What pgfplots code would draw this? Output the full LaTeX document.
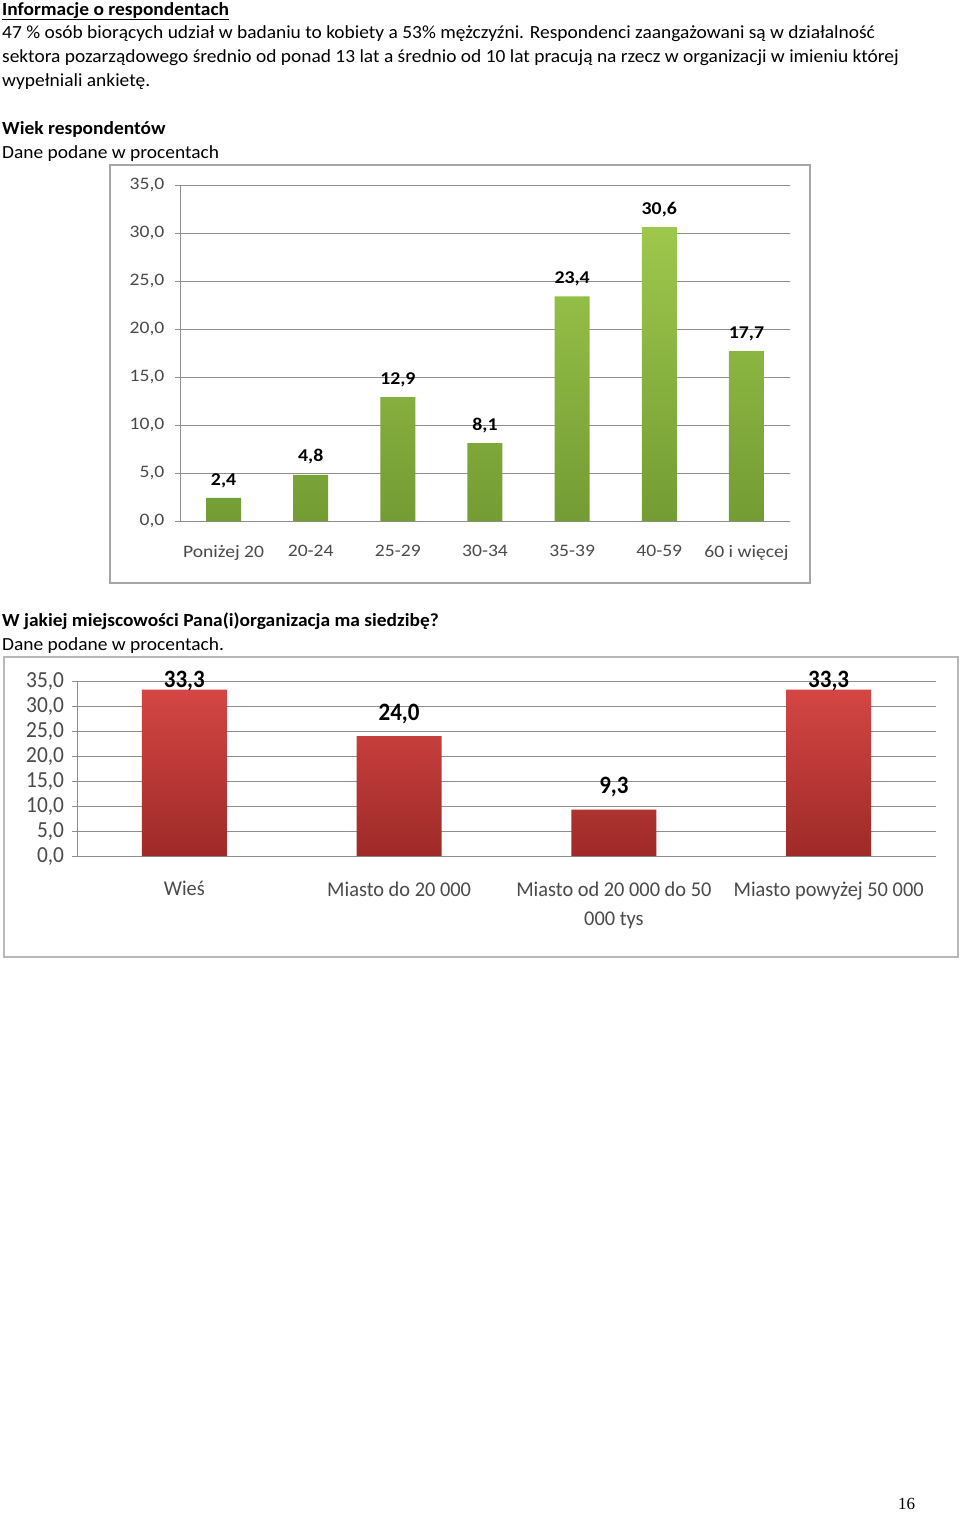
\documentclass[border=0pt]{standalone}
\usepackage{pgfplots}
\pgfplotsset{compat=1.18}
\usepackage{fontspec}
\setmainfont{Carlito}
\newfontfamily\serif{Liberation Serif}
\definecolor{gtop}{HTML}{9DC84C}
\definecolor{gbot}{HTML}{739C33}
\definecolor{rtop}{HTML}{D44644}
\definecolor{rbot}{HTML}{9E2A28}
\definecolor{gridc}{HTML}{8E8E8E}
\definecolor{labc}{HTML}{4A4A4A}
\definecolor{framec}{HTML}{A6A6A6}
\begin{document}
\begin{tikzpicture}
\path[fill=white,use as bounding box] (0,0) rectangle (960pt,-1513pt);
\begin{scope}[every node/.style={anchor=base west,inner sep=0pt,xscale=1.05}]
\node at (2pt,-15pt) {\fontsize{18.5}{20}\selectfont\bfseries\underline{Informacje o respondentach}};
\node at (2pt,-38pt) {\fontsize{18.5}{20}\selectfont 47 \% osób biorących udział w badaniu to kobiety a 53\% mężczyźni. Respondenci zaangażowani są w działalność};
\node at (2pt,-62pt) {\fontsize{18.5}{20}\selectfont sektora pozarządowego średnio od ponad 13 lat a średnio od 10 lat pracują na rzecz w organizacji w imieniu której};
\node at (2pt,-86pt) {\fontsize{18.5}{20}\selectfont wypełniali ankietę.};
\node at (2pt,-134pt) {\fontsize{18.5}{20}\selectfont\bfseries Wiek respondentów};
\node at (2pt,-158pt) {\fontsize{18.5}{20}\selectfont Dane podane w procentach};
\node at (2pt,-626pt) {\fontsize{18.5}{20}\selectfont\bfseries W jakiej miejscowości Pana(i)organizacja ma siedzibę?};
\node at (2pt,-650pt) {\fontsize{18.5}{20}\selectfont Dane podane w procentach.};
\end{scope}
\node[anchor=base west,inner sep=0pt] at (898pt,-1509pt) {\fontsize{17}{20}\selectfont\serif 16};
% frames
\draw[framec,line width=1.5pt] (110pt,-165pt) rectangle (810pt,-583pt);
\draw[framec!80,line width=1.5pt] (4pt,-657pt) rectangle (958pt,-957pt);
% chart 1
\begin{axis}[
  at={(180pt,-521pt)}, anchor=south west,
  scale only axis, width=610pt, height=336pt,
  ymin=0, ymax=35, ytick={0,5,...,35},
  xmin=-0.5, xmax=6.5,
  xtick={0,...,6},
  xticklabels={Poniżej 20,20-24,25-29,30-34,35-39,40-59,60 i więcej},
  minor xtick={-0.5,0.5,...,6.5},
  axis x line*=bottom, axis y line*=left,
  axis line style={gridc,line width=0.8pt},
  tick align=outside,
  major tick length=5pt, minor tick length=6pt,
  xtick style={draw=none},
  minor x tick style={gridc,line width=0.8pt},
  ytick style={gridc,line width=0.8pt},
  ymajorgrids, grid style={gridc,line width=0.8pt},
  /pgf/number format/.cd, use comma, fixed, fixed zerofill, precision=1, assume math mode=true,
  /pgfplots/.cd,
  ticklabel style={font=\fontsize{17.5}{17.5}\selectfont, text=labc, xscale=1.12},
  xticklabel style={yshift=-16pt},
  yticklabel style={xshift=-6pt},
  ybar, bar width=35pt,
  nodes near coords,
  every node near coord/.append style={font=\fontsize{18}{18}\selectfont\bfseries, text=black, xscale=1.1, yshift=7pt},
]
\addplot[draw=none, top color=gtop, bottom color=gbot] coordinates {(0,2.4) (1,4.8) (2,12.9) (3,8.1) (4,23.4) (5,30.6) (6,17.7)};
\end{axis}
% chart 2
\begin{axis}[
  at={(77pt,-856pt)}, anchor=south west,
  scale only axis, width=859pt, height=175pt,
  ymin=0, ymax=35, ytick={0,5,...,35},
  xmin=-0.5, xmax=3.5,
  xtick={0,...,3},
  xticklabels={Wieś,Miasto do 20 000,Miasto od 20 000 do 50\\000 tys,Miasto powyżej 50 000},
  minor xtick={-0.5,0.5,...,3.5},
  axis x line*=bottom, axis y line*=left,
  axis line style={gridc,line width=0.8pt},
  tick align=outside,
  major tick length=5pt, minor tick length=6pt,
  xtick style={draw=none},
  minor x tick style={gridc,line width=0.8pt},
  ytick style={gridc,line width=0.8pt},
  ymajorgrids, grid style={gridc,line width=0.8pt},
  /pgf/number format/.cd, use comma, fixed, fixed zerofill, precision=1, assume math mode=true,
  /pgfplots/.cd,
  yticklabel style={font=\fontsize{23}{23}\selectfont, text=labc, xscale=0.93, xshift=-5pt},
  xticklabel style={font=\fontsize{21}{29}\selectfont, text=labc, xscale=0.97, yshift=-17pt, align=center},
  ybar, bar width=85pt,
  nodes near coords,
  visualization depends on={ifthenelse(y>30,-14,0) \as \dy},
  every node near coord/.append style={font=\fontsize{25}{25}\selectfont\bfseries, text=black, xscale=0.92, yshift=\dy pt+9pt},
]
\addplot[draw=none, top color=rtop, bottom color=rbot] coordinates {(0,33.3) (1,24.0) (2,9.3) (3,33.3)};
\end{axis}
\end{tikzpicture}
\end{document}
